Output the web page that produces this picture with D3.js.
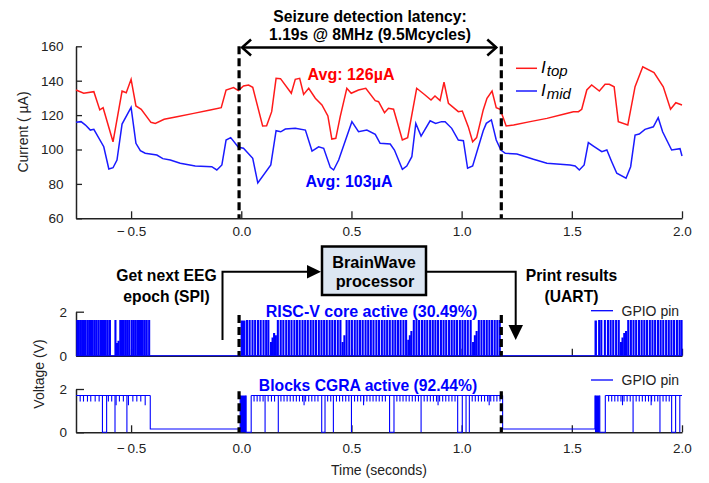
<!DOCTYPE html>
<html>
<head>
<meta charset="utf-8">
<script src="https://cdn.jsdelivr.net/npm/d3@7"></script>
<style>
body { margin: 0; background: #fff; }
text { font-family: "Liberation Sans", Arial, Helvetica, sans-serif; }
</style>
</head>
<body>
<div id="chart"></div>
<script>
// constants
const width = 709
const height = 483
const xLeft = 76
const xRight = 682

// top plot: supply currents (uA)
const topTime = [-0.75,-0.715,-0.669,-0.642,-0.627,-0.582,-0.541,-0.522,-0.5,-0.478,-0.454,-0.41,-0.39,-0.35,-0.292,-0.216,-0.141,-0.091,-0.069,-0.035,-0.013,0.01,0.033,0.052,0.097,0.115,0.138,0.158,0.178,0.227,0.245,0.265,0.283,0.306,0.336,0.366,0.393,0.411,0.429,0.449,0.479,0.499,0.532,0.565,0.608,0.623,0.65,0.668,0.691,0.731,0.755,0.796,0.834,0.861,0.879,0.902,0.92,0.94,0.985,1.003,1.03,1.05,1.068,1.098,1.115,1.138,1.157,1.175,1.202,1.236,1.311,1.387,1.462,1.507,1.53,1.545,1.568,1.59,1.625,1.651,1.67,1.692,1.711,1.754,1.787,1.822,1.873,1.915,1.948,1.972,2.0]
const topCurrent = [134.6,132.7,133.6,123,124.3,104.5,134,133,140.8,125.3,123.4,115.8,115.2,117.6,119,121,123,124.3,134.6,136,134.2,136.9,137.5,136.2,113.7,113.8,122,141.4,141.2,132.7,140.8,141.4,132,135.6,129.8,125.9,119.5,106.1,106.5,119.1,135.6,132.7,134.6,135.6,128.4,127.8,121.4,124,123.4,105.5,106.9,135.6,131.7,128.8,131.1,128.4,139.1,126.9,122,122.4,113.3,104.5,106.9,123,129.8,134,124.3,123.4,113.7,114.2,116.2,118.1,120.5,122,122,123.4,134.6,137.5,134,137.9,137.9,136.5,116.2,114.2,136.5,148.1,144.7,136.5,123.4,127.2,125.9]
const midTime = [-0.75,-0.727,-0.707,-0.685,-0.669,-0.624,-0.601,-0.582,-0.564,-0.541,-0.5,-0.478,-0.458,-0.436,-0.383,-0.356,-0.322,-0.277,-0.209,-0.134,-0.111,-0.088,-0.069,-0.048,-0.013,0.01,0.052,0.075,0.134,0.158,0.179,0.2,0.245,0.291,0.321,0.351,0.374,0.404,0.419,0.442,0.502,0.532,0.57,0.608,0.63,0.676,0.695,0.731,0.751,0.774,0.792,0.816,0.857,0.882,0.909,0.925,0.955,0.985,1.008,1.027,1.05,1.098,1.112,1.135,1.157,1.178,1.198,1.251,1.326,1.387,1.492,1.515,1.534,1.556,1.575,1.598,1.636,1.659,1.681,1.704,1.746,1.767,1.787,1.806,1.832,1.87,1.892,1.912,1.953,1.991,2.0]
const midCurrent = [115.8,116.2,114.2,111.3,111.7,101.6,88.7,89.4,93.9,114.8,124.5,103.6,99.3,97.8,96.8,94.7,93.9,92,90.4,90,88.1,91,105.5,106.9,101.3,100.7,94.9,80.5,91,110.9,110.3,111.9,112.3,111.3,99.1,101.6,100.7,89.6,88.1,93.9,116.2,110.3,111.3,108.8,103.6,103.2,99.7,88.5,90.4,95.8,115.2,107.8,116.7,115.2,116.2,116.2,112.3,105.5,105.1,89.1,90.4,110.9,115.2,117.2,105.5,99.7,97.8,97.4,94.3,92,91,90.4,88.1,91,104,102,98.7,99.7,92.9,86.2,83.3,90,108.4,109,111.7,113.2,118.5,110.3,99.7,100.5,96.2]

const xTicks = [-0.5, 0, 0.5, 1, 1.5, 2]
const currentTicks = [60, 80, 100, 120, 140, 160]
const voltTicks = [0, 2]
const latencyStart = -0.01
const latencyEnd = 1.18

// RISC-V core GPIO pin (V)
const coreLevel = 1.6
const corePulses = [-0.746,-0.739,-0.731,-0.724,-0.716,-0.709,-0.700,-0.692,-0.684,-0.676,-0.667,-0.659,-0.650,-0.641,-0.634,-0.625,-0.617,-0.608,-0.598,-0.573,-0.551,-0.543,-0.535,-0.526,-0.518,-0.510,-0.499,-0.491,-0.483,-0.474,-0.466,-0.457,-0.449,-0.440,-0.431,-0.420,
  0.024,0.036,0.049,0.061,0.074,0.086,0.099,0.111,0.121,0.164,0.177,0.189,0.202,0.214,0.226,0.239,0.251,0.263,0.276,0.288,0.300,0.313,0.325,0.337,0.350,0.362,0.374,0.386,0.399,0.411,0.423,0.436,0.448,0.476,0.488,0.500,0.513,0.525,0.537,0.549,0.562,0.574,0.586,0.598,0.611,0.623,
  0.636,0.648,0.660,0.672,0.685,0.697,0.709,0.721,0.734,0.746,0.781,0.793,0.805,0.818,0.830,0.842,0.855,0.867,0.879,0.891,0.904,0.916,0.928,0.941,0.953,0.965,0.977,0.990,1.002,1.014,1.026,1.039,1.076,1.088,1.100,1.112,1.124,1.136,1.148,1.160,1.171,
  1.622,1.632,1.648,1.662,1.674,1.686,1.699,1.711,1.754,1.766,1.778,1.790,1.803,1.815,1.827,1.839,1.852,1.864,1.876,1.889,1.901,1.913,1.926,1.938,1.950,1.962,1.975,1.987,1.996]
const coreShortTime = [-0.566,-0.559,0.133,0.140,0.147,0.155,0.458,0.466,0.756,0.763,0.770,1.050,1.058,1.066,1.721,1.728,1.736,1.744]
const coreShortLevel = [0.55,0.65,0.6,0.8,1.0,0.9,0.6,0.9,0.7,0.9,1.1,0.6,0.9,1.1,0.6,0.8,1.0,1.1]
const coreBlocks = [[-0.003, 0.019], [1.603, 1.614]]

// Blocks CGRA GPIO pin (V)
const cgraLevel = 1.7
const cgraIdle = 0.15
const cgraHigh = [[-0.75, -0.413], [0.045, 1.186], [1.652, 2.0]]
const cgraIdleSpans = [[-0.413, -0.005], [1.186, 1.605]]
const cgraBlocks = [[-0.005, 0.022], [1.605, 1.627]]
const cgraLowSpans = [[-0.630, -0.611], [0.022, 0.045], [0.365, 0.380], [0.673, 0.693], [0.982, 1.003], [1.627, 1.652], [1.953, 1.971]]
const cgraDrops = [-0.573, -0.519, 0.108, 0.168, 0.418, 0.5, 0.816, 1.02, 1.035, 1.778, 1.9, 1.99]
const cgraTicks = [-0.731,-0.716,-0.698,-0.683,-0.663,-0.645,-0.603,-0.588,-0.553,-0.535,-0.492,-0.474,-0.456,
  0.058,0.072,0.085,0.099,0.122,0.137,0.151,0.180,0.194,0.208,0.222,0.236,0.250,0.264,0.278,0.292,0.306,0.320,0.334,0.348,0.392,0.406,0.432,0.446,0.460,0.474,0.488,0.514,0.528,0.542,0.556,0.570,0.584,0.598,0.612,0.626,0.640,0.654,0.706,0.720,0.734,0.748,0.762,0.776,0.790,0.804,0.830,0.844,0.858,0.872,0.886,0.900,0.914,0.928,0.942,0.956,0.970,1.048,1.062,1.076,1.090,1.104,1.118,1.132,1.146,1.160,1.174,
  1.667,1.681,1.695,1.709,1.723,1.737,1.751,1.765,1.792,1.806,1.820,1.834,1.848,1.862,1.876,1.890,1.914,1.928,1.942]
const cgraLongTicks = [-0.568, -0.512, -0.436, 0.285, 0.555, 0.893, 1.125, 1.73, 1.86]

const pulseWidth = 0.004
const shortTick = 0.28
const longTick = 0.45

const svg = d3.select("#chart")
              .append("svg")
                .attr("width", width)
                .attr("height", height)

// scales
const x = d3.scaleLinear()
            .domain([-0.75, 2.0])
            .range([xLeft, xRight])
const yCur = d3.scaleLinear()
               .domain([60, 160])
               .range([218.3, 46.3])
const yCore = d3.scaleLinear()
                .domain([0, 2])
                .range([355.7, 311.7])
const yCgra = d3.scaleLinear()
                .domain([0, 2])
                .range([432.3, 389])

// minus sign is set a bit apart in the original
const timeFormat = d => (d < 0 ? "\u2212\u2009" : "") + d3.format(".1f")(Math.abs(d))

function styleAxis(g) {
    g.select(".domain").attr("stroke", "#222").attr("stroke-width", 1.5)
    g.selectAll(".tick line").attr("stroke", "#222").attr("stroke-width", 1.3)
    g.selectAll(".tick text")
        .attr("fill", "#222")
        .style("font-size", "13.5px")
        .style("font-family", '"Liberation Sans", Arial, sans-serif')
}

// top plot axes
svg.append("g")
    .attr("transform", `translate(0, ${yCur(60)})`)
    .call(d3.axisBottom(x).tickValues(xTicks).tickFormat(timeFormat)
            .tickSizeInner(-7).tickSizeOuter(0).tickPadding(8))
    .call(styleAxis)
svg.append("g")
    .attr("transform", `translate(${xLeft}, 0)`)
    .call(d3.axisLeft(yCur).tickValues(currentTicks)
            .tickSizeInner(-6).tickSizeOuter(0).tickPadding(12.5))
    .call(styleAxis)

// bottom panels axes
svg.append("g")
    .attr("transform", `translate(0, ${yCore(0)})`)
    .call(d3.axisBottom(x).tickValues(xTicks).tickFormat("")
            .tickSizeInner(-7).tickSizeOuter(0))
    .call(styleAxis)
svg.append("g")
    .attr("transform", `translate(${xLeft}, 0)`)
    .call(d3.axisLeft(yCore).tickValues(voltTicks).tickFormat(d3.format("d"))
            .tickSizeInner(-8).tickSizeOuter(0).tickPadding(9))
    .call(styleAxis)
svg.append("g")
    .attr("transform", `translate(0, ${yCgra(0)})`)
    .call(d3.axisBottom(x).tickValues(xTicks).tickFormat(timeFormat)
            .tickSizeInner(-7).tickSizeOuter(0).tickPadding(11))
    .call(styleAxis)
svg.append("g")
    .attr("transform", `translate(${xLeft}, 0)`)
    .call(d3.axisLeft(yCgra).tickValues(voltTicks).tickFormat(d3.format("d"))
            .tickSizeInner(-8).tickSizeOuter(0).tickPadding(9))
    .call(styleAxis)

// current traces
const lineCur = d3.line()
                  .x(d => x(d[0]))
                  .y(d => yCur(d[1]))
svg.append("path")
    .datum(d3.zip(topTime, topCurrent))
    .attr("d", lineCur)
    .attr("stroke", "#ff1a1a")
    .attr("stroke-width", 1.5)
    .attr("fill", "none")
svg.append("path")
    .datum(d3.zip(midTime, midCurrent))
    .attr("d", lineCur)
    .attr("stroke", "#1a1aff")
    .attr("stroke-width", 1.5)
    .attr("fill", "none")

// core pin pulses
const lineCore = d3.line()
                   .x(d => x(d[0]))
                   .y(d => yCore(d[1]))
const corePaths = corePulses.map(t => [[t, 0], [t, coreLevel], [t + pulseWidth, coreLevel], [t + pulseWidth, 0]])
    .concat(coreShortTime.map((t, i) => [[t, 0], [t, coreShortLevel[i]], [t + pulseWidth, coreShortLevel[i]], [t + pulseWidth, 0]]))
svg.append("path")
    .datum([[-0.75, 0], [2.0, 0]])
    .attr("d", lineCore)
    .attr("stroke", "#0000ff")
    .attr("stroke-width", 1)
svg.selectAll("path.core")
    .data(corePaths)
    .join("path")
        .attr("class", "core")
        .attr("d", lineCore)
        .attr("stroke", "#0000ff")
        .attr("stroke-width", 1.2)
        .attr("fill", "none")
svg.selectAll("rect.coreBlock")
    .data(coreBlocks)
    .join("rect")
        .attr("class", "coreBlock")
        .attr("x", d => x(d[0]))
        .attr("width", d => x(d[1]) - x(d[0]))
        .attr("y", yCore(coreLevel))
        .attr("height", yCore(0) - yCore(coreLevel))
        .attr("fill", "#0000ff")

// cgra pin trace
const lineCgra = d3.line()
                   .x(d => x(d[0]))
                   .y(d => yCgra(d[1]))
let cgraSegs = []
for (s of cgraHigh) cgraSegs.push([[s[0], cgraLevel], [s[1], cgraLevel]])
for (s of cgraIdleSpans) cgraSegs.push([[s[0], cgraLevel], [s[0], cgraIdle], [s[1], cgraIdle], [s[1], cgraLevel]])
for (s of cgraLowSpans) cgraSegs.push([[s[0], cgraLevel], [s[0], 0], [s[1], 0], [s[1], cgraLevel]])
for (t of cgraDrops) cgraSegs.push([[t, cgraLevel], [t, 0]])
for (t of cgraTicks) cgraSegs.push([[t, cgraLevel], [t, cgraLevel - shortTick]])
for (t of cgraLongTicks) cgraSegs.push([[t, cgraLevel], [t, cgraLevel - longTick]])
svg.selectAll("path.cgra")
    .data(cgraSegs)
    .join("path")
        .attr("class", "cgra")
        .attr("d", lineCgra)
        .attr("stroke", "#0000ff")
        .attr("stroke-width", 1.1)
        .attr("fill", "none")
svg.selectAll("rect.cgraBlock")
    .data(cgraBlocks)
    .join("rect")
        .attr("class", "cgraBlock")
        .attr("x", d => x(d[0]))
        .attr("width", d => x(d[1]) - x(d[0]))
        .attr("y", yCgra(cgraLevel))
        .attr("height", yCgra(0) - yCgra(cgraLevel))
        .attr("fill", "#0000ff")

// latency markers
const dashed = [
    [yCur(160), yCur(60)],
    [yCore(1.85), yCore(0)],
    [yCgra(1.9), yCgra(0)]
]
for (d of dashed) {
    for (t of [latencyStart, latencyEnd]) {
        svg.append("line")
            .attr("x1", x(t)).attr("x2", x(t))
            .attr("y1", d[0]).attr("y2", d[1])
            .attr("stroke", "black")
            .attr("stroke-width", 3.2)
            .attr("stroke-dasharray", "8,4")
    }
}

// latency arrow
const arrowY = 47.5
svg.append("line")
    .attr("x1", x(latencyStart) + 3).attr("x2", x(latencyEnd) - 5)
    .attr("y1", arrowY).attr("y2", arrowY)
    .attr("stroke", "black").attr("stroke-width", 2.5)
svg.append("path")
    .attr("d", `M${x(latencyStart) + 12},${arrowY - 8} L${x(latencyStart) + 3},${arrowY} L${x(latencyStart) + 12},${arrowY + 8}`)
    .attr("stroke", "black").attr("stroke-width", 2.5).attr("fill", "none")
svg.append("path")
    .attr("d", `M${x(latencyEnd) - 14},${arrowY - 8} L${x(latencyEnd) - 5},${arrowY} L${x(latencyEnd) - 14},${arrowY + 8}`)
    .attr("stroke", "black").attr("stroke-width", 2.5).attr("fill", "none")

function label(txt, px, py, opts) {
    return svg.append("text")
        .attr("x", px)
        .attr("y", py)
        .attr("text-anchor", opts.anchor || "middle")
        .attr("font-weight", opts.bold ? "bold" : "normal")
        .attr("fill", opts.color || "black")
        .style("font-size", (opts.size || 13) + "px")
        .text(txt)
}

label("Seizure detection latency:", 370, 22, {bold: true, size: 15.7})
label("1.19s @ 8MHz (9.5Mcycles)", 370, 39.5, {bold: true, size: 15.7})
label("Avg: 126µA", 351, 79.5, {bold: true, size: 16, color: "#ff0000"})
label("Avg: 103µA", 349, 186.5, {bold: true, size: 16, color: "#0000ff"})

// top legend
const legendTop = [["top", "#ff1a1a", 68.3], ["mid", "#1a1aff", 91]]
for (l of legendTop) {
    svg.append("line")
        .attr("x1", 516).attr("x2", 537)
        .attr("y1", l[2]).attr("y2", l[2])
        .attr("stroke", l[1]).attr("stroke-width", 1.5)
    const t = svg.append("text")
        .attr("x", 541)
        .attr("y", l[2] + 5)
        .style("font-size", "17px")
        .style("font-style", "italic")
    t.append("tspan").text("I")
    t.append("tspan").attr("dy", 3).attr("dx", 1).style("font-size", "15px").text(l[0])
}

// axis titles
svg.append("text")
    .attr("transform", "translate(28, 132) rotate(-90)")
    .attr("text-anchor", "middle")
    .style("font-size", "14px")
    .attr("fill", "#222")
    .text("Current ( µA)")
svg.append("text")
    .attr("transform", "translate(44, 374) rotate(-90)")
    .attr("text-anchor", "middle")
    .style("font-size", "14px")
    .attr("fill", "#222")
    .text("Voltage (V)")
label("Time (seconds)", 379, 475, {size: 14, color: "#222"})

// processor box and flow arrows
svg.append("rect")
    .attr("x", 322).attr("y", 246.5)
    .attr("width", 104).attr("height", 48.5)
    .attr("fill", "#dce6f2")
    .attr("stroke", "black").attr("stroke-width", 2.5)
label("BrainWave", 374, 267.5, {bold: true, size: 16.3})
label("processor", 375, 287, {bold: true, size: 16.3})

svg.append("path")
    .attr("d", "M222.5,340 V271.7 H308")
    .attr("stroke", "black").attr("stroke-width", 2).attr("fill", "none")
svg.append("path")
    .attr("d", "M307,265 L321,271.7 L307,278.4 Z")
    .attr("fill", "black")
svg.append("path")
    .attr("d", "M426,271.7 H515.7 V326")
    .attr("stroke", "black").attr("stroke-width", 2).attr("fill", "none")
svg.append("path")
    .attr("d", "M508.5,325 L515.7,340 L523,325 Z")
    .attr("fill", "black")

label("Get next EEG", 166.5, 281, {bold: true, size: 15.7})
label("epoch (SPI)", 166.5, 302, {bold: true, size: 15.7})
label("Print results", 571.5, 281, {bold: true, size: 15.7})
label("(UART)", 571.5, 302, {bold: true, size: 15.7})

label("RISC-V core active (30.49%)", 371.5, 316.5, {bold: true, size: 16, color: "#0000ff"})
label("Blocks CGRA active (92.44%)", 368, 390.5, {bold: true, size: 15.7, color: "#0000ff"})

// gpio legends
for (ly of [310.7, 380]) {
    svg.append("line")
        .attr("x1", 591).attr("x2", 613)
        .attr("y1", ly).attr("y2", ly)
        .attr("stroke", "#0000ff").attr("stroke-width", 1.3)
    label("GPIO pin", 621.5, ly + 5, {anchor: "start", size: 14, color: "#222"})
}
</script>
</body>
</html>
